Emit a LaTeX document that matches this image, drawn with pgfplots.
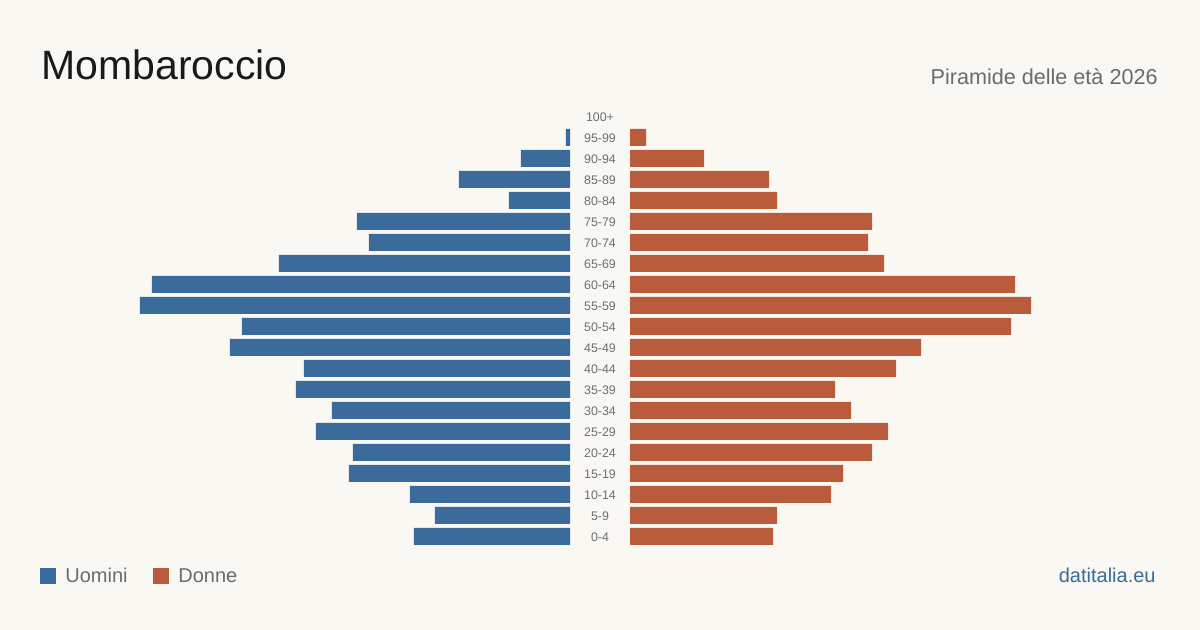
\documentclass[border=0pt]{standalone}
\usepackage{pgfplots}
\pgfplotsset{compat=1.18}
\usepackage{fontspec}
\setmainfont{Liberation Sans}
\definecolor{bg}{HTML}{F9F8F3}
\definecolor{mblue}{HTML}{3B6B9B}
\definecolor{forange}{HTML}{B85C3B}
\definecolor{titlec}{HTML}{1A1A1A}
\definecolor{subc}{HTML}{6B6B6B}
\definecolor{labc}{HTML}{6E6E6E}
\begin{document}
\begin{tikzpicture}
\fill[bg] (0,0) rectangle (600pt,315pt);
\useasboundingbox (0,0) rectangle (600pt,315pt);
\pgfplotsset{pyr/.style={
  scale only axis, width=285pt, height=220.5pt,
  xmin=0, xmax=570, ymin=-0.5, ymax=20.5,
  axis lines=none, ticks=none, xbar, bar width=0.81,
  clip=false}}
% Uomini (left); 100+ = 0
\begin{axis}[pyr, at={(0pt,41.5pt)}, anchor=south west, x dir=reverse]
\addplot[draw=none, fill=mblue] coordinates {
(156,0) (135,1) (160,2) (221,3) (217,4) (254,5) (238,6) (274,7) (266,8) (340,9)
(328,10) (430,11) (418,12) (291,13) (201,14) (213,15) (61,16) (111,17) (49,18) (4,19)};
\end{axis}
% Donne (right); 100+ = 0
\begin{axis}[pyr, at={(315pt,41.5pt)}, anchor=south west]
\addplot[draw=none, fill=forange] coordinates {
(143,0) (147,1) (201,2) (213,3) (242,4) (258,5) (221,6) (205,7) (266,8) (291,9)
(381,10) (401,11) (385,12) (254,13) (238,14) (242,15) (147,16) (139,17) (74,18) (16,19)};
\end{axis}
% age labels
\foreach \lab [count=\i from 0] in {0-4,5-9,10-14,15-19,20-24,25-29,30-34,35-39,40-44,45-49,50-54,55-59,60-64,65-69,70-74,75-79,80-84,85-89,90-94,95-99,100+}{
  \node[anchor=center, inner sep=0pt, font=\fontsize{6.2pt}{7pt}\selectfont, text=labc] at (300pt,{(46.25+10.5*\i)*1pt}) {\lab};
}
% title & subtitle
\node[anchor=base west, inner sep=0pt, font=\fontsize{20.5pt}{24pt}\selectfont, text=titlec] at (20.5pt,275pt) {Mombaroccio};
\node[anchor=base east, inner sep=0pt, font=\fontsize{10.8pt}{13pt}\selectfont, text=subc] at (579pt,272.85pt) {Piramide delle età 2026};
% legend
\fill[mblue] (20pt,23pt) rectangle (28pt,31pt);
\node[anchor=base west, inner sep=0pt, font=\fontsize{10pt}{12pt}\selectfont, text=subc] at (32.5pt,23.65pt) {Uomini};
\fill[forange] (76.5pt,23pt) rectangle (84.5pt,31pt);
\node[anchor=base west, inner sep=0pt, font=\fontsize{10pt}{12pt}\selectfont, text=subc] at (89pt,23.65pt) {Donne};
\node[anchor=base east, inner sep=0pt, font=\fontsize{10pt}{12pt}\selectfont, text=mblue] at (578pt,23.65pt) {datitalia.eu};
\end{tikzpicture}
\end{document}
